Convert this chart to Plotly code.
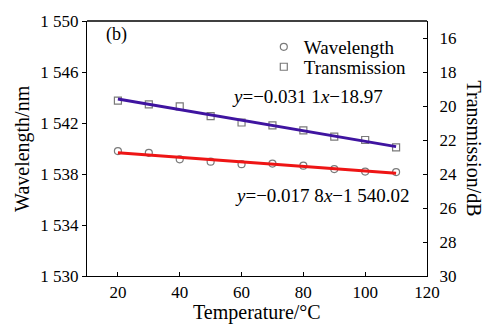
import plotly.graph_objects as go

# ---- data ----
temperature = [20, 30, 40, 50, 60, 70, 80, 90, 100, 110]
wavelength = [1539.80, 1539.66, 1539.15, 1538.97, 1538.77, 1538.82, 1538.65, 1538.39, 1538.19, 1538.15]
transmission = [19.68, 19.90, 20.02, 20.59, 20.97, 21.14, 21.43, 21.80, 22.00, 22.43]
fit_temperature = [20, 110]
wavelength_fit = [1539.66, 1538.06]
transmission_fit = [19.59, 22.39]
x_ticks = [20, 40, 60, 80, 100, 120]
wl_ticks = [1530, 1534, 1538, 1542, 1546, 1550]
wl_tick_text = ["1 530", "1 534", "1 538", "1 542", "1 546", "1 550"]
tr_ticks = [16, 18, 20, 22, 24, 26, 28, 30]
eq_trans = "<i>y</i>=−0.031 1<i>x</i>−18.97"
eq_wave = "<i>y</i>=−0.017 8<i>x</i>−1 540.02"

FONT = "Liberation Serif, Times New Roman, serif"
GRAY = "#7a7a7a"

fig = go.Figure()
fig.add_trace(go.Scatter(x=temperature, y=wavelength, mode="markers", name="Wavelength",
                         marker=dict(symbol="circle-open", size=7, color=GRAY, line=dict(width=1.2)),
                         yaxis="y", legend="legend"))
fig.add_trace(go.Scatter(x=temperature, y=transmission, mode="markers", name="Transmission",
                         marker=dict(symbol="square-open", size=7, color=GRAY, line=dict(width=1.2)),
                         yaxis="y2", legend="legend2"))
fig.add_trace(go.Scatter(x=fit_temperature, y=wavelength_fit, mode="lines", showlegend=False,
                         line=dict(color="#ee1515", width=3), yaxis="y"))
fig.add_trace(go.Scatter(x=fit_temperature, y=transmission_fit, mode="lines", showlegend=False,
                         line=dict(color="#3f14a0", width=3), yaxis="y2"))

axis_common = dict(showgrid=False, zeroline=False, showline=True, linecolor="black", linewidth=1.4,
                   tickcolor="black", ticklen=4, tickwidth=1.2,
                   tickfont=dict(family=FONT, size=17, color="black"))

legend_common = dict(xanchor="left", yanchor="middle", bgcolor="rgba(0,0,0,0)",
                     font=dict(family=FONT, size=19), itemwidth=30, tracegroupgap=0)

fig.update_layout(
    width=490, height=332,
    margin=dict(l=87, r=63, t=13, b=56),
    paper_bgcolor="white", plot_bgcolor="white",
    font=dict(family=FONT, size=20, color="black"),
    xaxis=dict(range=[10, 120], tickvals=x_ticks, ticks="inside", **axis_common),
    yaxis=dict(range=[1530, 1550], tickvals=wl_ticks, ticktext=wl_tick_text, ticks="outside",
               **axis_common),
    yaxis2=dict(range=[30, 15], tickvals=tr_ticks, ticks="inside", overlaying="y", side="right",
                ticklabelstandoff=8, **axis_common),
    legend=dict(x=0.52, y=0.898, **legend_common),
    legend2=dict(x=0.52, y=0.82, **legend_common),
    showlegend=True,
)
# top border line
fig.add_shape(type="line", xref="paper", yref="paper", x0=0, x1=1, y0=1, y1=1,
              line=dict(color="black", width=1.4))

fig.add_annotation(text="(b)", xref="paper", yref="paper", x=0.05, y=0.995,
                   xanchor="left", yanchor="top", showarrow=False, font=dict(size=18))
fig.add_annotation(text=eq_trans, x=0.42, y=0.705, xref="paper", yref="paper",
                   xanchor="left", yanchor="middle", showarrow=False, font=dict(size=19))
fig.add_annotation(text=eq_wave, x=0.43, y=0.315, xref="paper", yref="paper",
                   xanchor="left", yanchor="middle", showarrow=False, font=dict(size=19))
fig.add_annotation(text="Temperature/°C", xref="paper", yref="paper", x=0.5, y=-0.145,
                   xanchor="center", yanchor="middle", showarrow=False, font=dict(size=20))
fig.add_annotation(text="Wavelength/nm", xref="paper", yref="paper", x=-0.19, y=0.5,
                   textangle=-90, xanchor="center", yanchor="middle", showarrow=False, font=dict(size=20))
fig.add_annotation(text="Transmission/dB", xref="paper", yref="paper", x=1.141, y=0.5,
                   textangle=90, xanchor="center", yanchor="middle", showarrow=False, font=dict(size=20))

fig.write_html("out.html")
